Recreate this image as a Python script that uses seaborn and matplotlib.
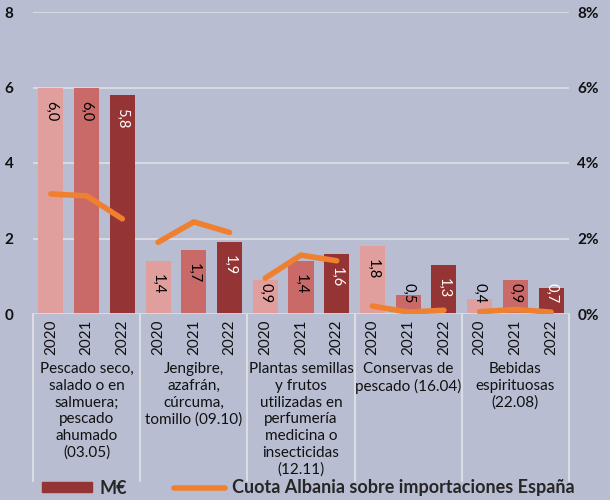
import numpy as np
import pandas as pd
import seaborn as sns
import matplotlib.pyplot as plt
from matplotlib.patches import Patch
from matplotlib.lines import Line2D

# datos
categorias = [
    "Pescado seco,\nsalado o en\nsalmuera;\npescado\nahumado\n(03.05)",
    "Jengibre,\nazafrán,\ncúrcuma,\ntomillo (09.10)",
    "Plantas semillas\ny frutos\nutilizadas en\nperfumería\nmedicina o\ninsecticidas\n(12.11)",
    "Conservas de\npescado (16.04)",
    "Bebidas\nespirituosas\n(22.08)",
]
anios = ["2020", "2021", "2022"]
meur_2020 = [6.0, 1.4, 0.9, 1.8, 0.4]
meur_2021 = [6.0, 1.7, 1.4, 0.5, 0.9]
meur_2022 = [5.8, 1.9, 1.6, 1.3, 0.7]
cuota_2020 = [3.18, 1.90, 0.95, 0.21, 0.06]
cuota_2021 = [3.13, 2.44, 1.56, 0.05, 0.12]
cuota_2022 = [2.52, 2.16, 1.41, 0.10, 0.05]

fondo = "#B8BDD2"
colores = ["#E09E9D", "#C96A68", "#943434"]
naranja = "#EE802F"
gris = "#DCDDE3"

sns.set_theme(style="white")
plt.rcParams['font.family'] = ['Lato', 'DejaVu Sans']

df = pd.DataFrame({
    "cat": np.repeat(np.arange(len(categorias)), 3),
    "anio": anios * len(categorias),
    "valor": [v for trio in zip(meur_2020, meur_2021, meur_2022) for v in trio],
    "cuota": [v for trio in zip(cuota_2020, cuota_2021, cuota_2022) for v in trio],
})
offs = {"2020": -1 / 3, "2021": 0.0, "2022": 1 / 3}
df["pos"] = df["cat"] + df["anio"].map(offs)

fig = plt.figure(figsize=(6.1, 5.0), dpi=100, facecolor=fondo)
ax = fig.add_axes([33 / 610, 0.372, (569 - 33) / 610, 0.604])
ax.set_facecolor(fondo)

sns.barplot(data=df, x="cat", y="valor", hue="anio", palette=colores,
            width=1.0, gap=0.3, saturation=1, legend=False, ax=ax, zorder=2,
            linewidth=0)
ax.set_xlim(-0.5, 4.5)
ax.set_ylim(0, 8)
ax.set_yticks([0, 2, 4, 6, 8])
ax.set_yticklabels(["0", "2", "4", "6", "8"], fontsize=11, fontweight="bold")
ax.tick_params(axis="y", length=0, pad=14, colors="#111111")
ax.set_xticks([])
ax.set_xlabel("")
ax.set_ylabel("")
for y in [2, 4, 6, 8]:
    ax.axhline(y, color=gris, lw=1.3, zorder=1)
for s in ax.spines.values():
    s.set_visible(False)
ax.axhline(0, color=gris, lw=1.3, zorder=3)

# etiquetas de valores
for k, cont in enumerate(ax.containers):
    for barra in cont:
        v = barra.get_height()
        xc = barra.get_x() + barra.get_width() / 2
        ytop = max(v - 0.35, 0.82)
        ax.text(xc, ytop, f"{v:.1f}".replace(".", ","), rotation=270,
                ha="center", va="top", fontsize=10.5,
                color="white" if k == 2 else "black", zorder=4)

# años y categorías debajo del eje
trans = ax.get_xaxis_transform()
for _, fila in df.iterrows():
    ax.text(fila["pos"], -0.077, fila["anio"], rotation=90, ha="center",
            va="center", fontsize=11, transform=trans, color="#111111")
for i, cat in enumerate(categorias):
    ax.text(i, -0.16, cat, ha="center", va="top", fontsize=11,
            linespacing=1.24, transform=trans, color="#111111")
for xs in np.arange(-0.5, 5, 1):
    ax.plot([xs, xs], [0, -0.553], color=gris, lw=1.5, transform=trans,
            clip_on=False, zorder=3)

# cuota (eje derecho)
ax2 = ax.twinx()
sns.lineplot(data=df, x="pos", y="cuota", units="cat", estimator=None,
             color=naranja, lw=4, ax=ax2, solid_capstyle="round", zorder=5)
ax2.set_ylim(0, 8)
ax2.set_xlim(-0.5, 4.5)
ax2.set_yticks([0, 2, 4, 6, 8])
ax2.set_yticklabels(["0%", "2%", "4%", "6%", "8%"], fontsize=11, fontweight="bold")
ax2.tick_params(axis="y", length=0, pad=6, colors="#111111")
ax2.set_ylabel("")
ax2.set_xlabel("")
for s in ax2.spines.values():
    s.set_visible(False)

manejadores = [Patch(color=colores[2]), Line2D([0], [0], color=naranja, lw=4)]
fig.legend(manejadores, ["M€", "Cuota Albania sobre importaciones España"],
           loc="center", bbox_to_anchor=(0.505, 0.024), ncol=2, frameon=False,
           handlelength=2.8, handleheight=0.5, columnspacing=2.6,
           handletextpad=0.4,
           prop={"weight": "bold", "size": 13})

fig.savefig("out.png", dpi=100, facecolor=fondo)
